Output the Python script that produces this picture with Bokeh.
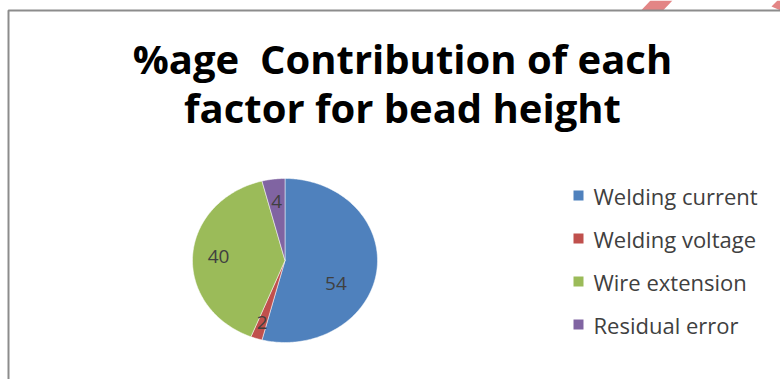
import numpy as np
from bokeh.plotting import figure
from bokeh.models import Range1d, Label
from bokeh.core.properties import value
from bokeh.embed import file_html
from bokeh.resources import INLINE

# ---- data ----
factors = ["Welding current", "Welding voltage", "Wire extension", "Residual error"]
contribution = [54, 2, 40, 4]
colors = ["#4F81BD", "#C0504D", "#9BBB59", "#8064A2"]
title_lines = ["%age\u00a0 Contribution of each", "factor for bead height"]

# ---- layout (pixel-like coordinates, y downward) ----
W, H = 780, 379
p = figure(width=W, height=H, output_backend="svg", toolbar_location=None,
           x_range=Range1d(0, W), y_range=Range1d(H, 0),
           min_border=0, outline_line_color=None, background_fill_color="white",
           border_fill_color="white")
p.axis.visible = False
p.grid.visible = False

# watermark fragments at top right
p.patch([641, 663, 672, 650], [9.5, 9.5, 0, 0], fill_color="#E38585", line_color=None)
p.patch([771, 777, 780, 780], [6, 0, 0, 10], fill_color="#E38585", line_color=None)

# chart frame
p.quad(left=8, right=W + 20, top=10, bottom=H + 20, fill_color=None,
       line_color="#8C8C8C", line_width=2)

# title
for i, t in enumerate(title_lines):
    p.add_layout(Label(x=402, y=58 + 49 * i, text=t, text_align="center",
                       text_baseline="middle", text_font="Open Sans",
                       text_font_style="bold", text_font_size="40px",
                       text_color="#000000"))

# pie (elliptical) from data
cx, cy, rx, ry = 284.5, 260, 92.5, 82
vals = np.array(contribution, dtype=float)
fr = vals / vals.sum()
ends = -np.pi / 2 + 2 * np.pi * np.cumsum(fr)
starts = ends - 2 * np.pi * fr
xs, ys = [], []
for s, e in zip(starts, ends):
    n = max(4, int(np.degrees(e - s)))
    a = np.linspace(s, e, n)
    xs.append(list(np.concatenate([[cx], cx + rx * np.cos(a)])))
    ys.append(list(np.concatenate([[cy], cy + ry * np.sin(a)])))
p.patches(xs, ys, fill_color=colors, line_color="white", line_width=0.5)

# data labels
label_frac = [0.62, 0.8, 0.72, 0.72]
label_turn = [0.35, 0.0, 0.0, 0.0]
mids = (starts + ends) / 2 + np.array(label_turn)
lx = cx + rx * np.array(label_frac) * np.cos(mids)
ly = cy + ry * np.array(label_frac) * np.sin(mids)
p.text(x=list(lx), y=list(ly), text=[str(v) for v in contribution],
       text_align="center", text_baseline="middle",
       text_font=value("Open Sans"), text_font_size="19px", text_color="#404040")

# legend
leg_y = 195 + 43 * np.arange(len(factors))
p.rect(x=[578] * len(factors), y=list(leg_y), width=10, height=10,
       fill_color=colors, line_color=None)
p.text(x=[593] * len(factors), y=list(leg_y), text=factors,
       text_align="left", text_baseline="middle",
       text_font=value("Open Sans"), text_font_size="22px", text_color="#404040")

open("out.html", "w").write(file_html(p, INLINE))
